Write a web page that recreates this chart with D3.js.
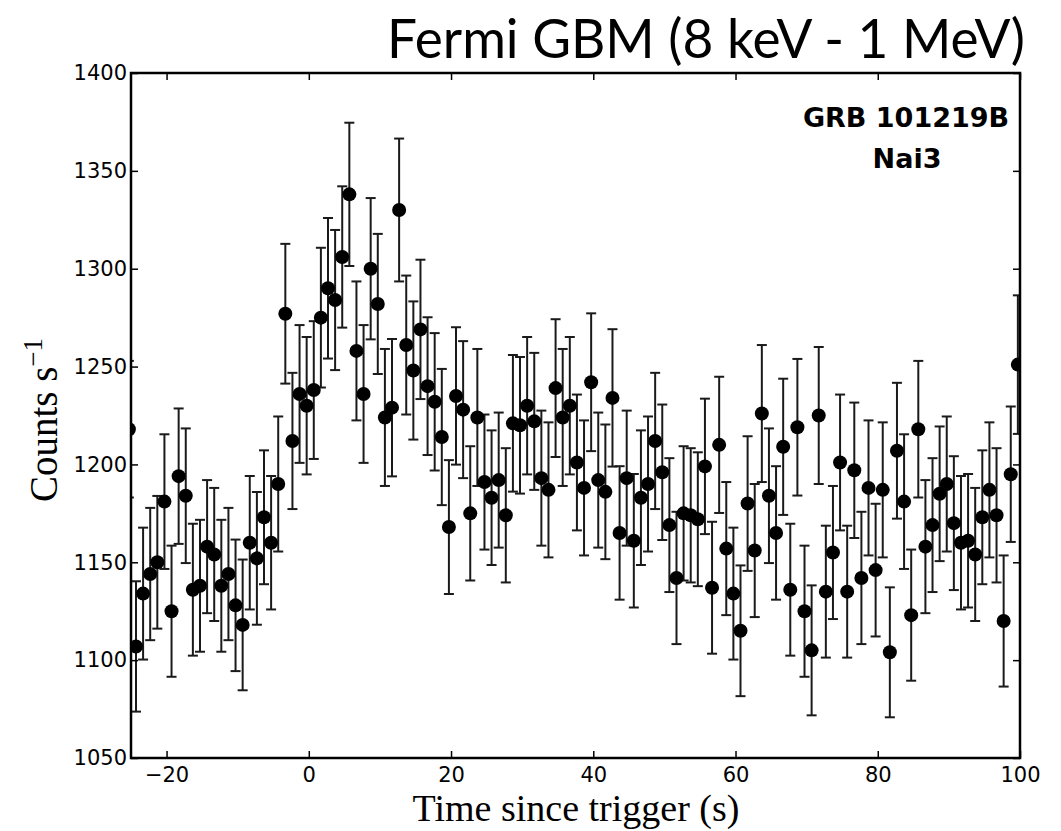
<!DOCTYPE html>
<html>
<head>
<meta charset="utf-8">
<script src="https://cdn.jsdelivr.net/npm/d3@7"></script>
<style>
  html,body{margin:0;padding:0;background:#fff;}
  #chart{width:1061px;height:831px;}
</style>
</head>
<body>
<div id="chart"></div>
<script>
// bin centres (s) and count rates
const times = [-25.3,-24.3,-23.3,-22.3,-21.3,-20.3,-19.3,-18.3,-17.3,-16.3,-15.3,-14.3,-13.3,-12.3,-11.3,-10.3,-9.3,-8.3,-7.3,-6.3,
  -5.3,-4.3,-3.3,-2.3,-1.3,-0.3,0.7,1.7,2.7,3.7,4.7,5.7,6.7,7.7,8.7,9.7,10.7,11.7,12.7,13.7,
  14.7,15.7,16.7,17.7,18.7,19.7,20.7,21.7,22.7,23.7,24.7,25.7,26.7,27.7,28.7,29.7,30.7,31.7,32.7,33.7,
  34.7,35.7,36.7,37.7,38.7,39.7,40.7,41.7,42.7,43.7,44.7,45.7,46.7,47.7,48.7,49.7,50.7,51.7,52.7,53.7,
  54.7,55.7,56.7,57.7,58.7,59.7,60.7,61.7,62.7,63.7,64.7,65.7,66.7,67.7,68.7,69.7,70.7,71.7,72.7,73.7,
  74.7,75.7,76.7,77.7,78.7,79.7,80.7,81.7,82.7,83.7,84.7,85.7,86.7,87.7,88.7,89.7,90.7,91.7,92.7,93.7,
  94.7,95.7,96.7,97.7,98.7,99.7];
const counts = [1218,1107,1134,1144,1150,1181,1125,1194,1184,1136,1138,1158,1154,1138,1144,1128,1118,1160,1152,1173,
  1160,1190,1277,1212,1236,1230,1238,1275,1290,1284,1306,1338,1258,1236,1300,1282,1224,1229,1330,1261,
  1248,1269,1240,1232,1214,1168,1235,1228,1175,1224,1191,1183,1192,1174,1221,1220,1230,1222,1193,1187,
  1239,1224,1230,1201,1188,1242,1192,1186,1234,1165,1193,1161,1183,1190,1212,1196,1169,1142,1175,1174,
  1172,1199,1137,1210,1157,1134,1115,1180,1156,1226,1184,1165,1209,1136,1219,1125,1105,1225,1135,1155,
  1201,1135,1197,1142,1188,1146,1187,1104,1207,1181,1123,1218,1158,1169,1185,1190,1170,1160,1161,1154,
  1173,1187,1174,1120,1195,1251];
const errors = [34.9,33.3,33.7,33.8,33.9,34.4,33.5,34.6,34.4,33.7,33.7,34.0,34.0,33.7,33.8,33.6,33.4,34.1,33.9,34.2,
  34.1,34.5,35.7,34.8,35.2,35.1,35.2,35.7,35.9,35.8,36.1,36.6,35.5,35.2,36.1,35.8,35.0,35.1,36.5,35.5,
  35.3,35.6,35.2,35.1,34.8,34.2,35.1,35.0,34.3,35.0,34.5,34.4,34.5,34.3,34.9,34.9,35.1,35.0,34.5,34.5,
  35.2,35.0,35.1,34.7,34.5,35.2,34.5,34.4,35.1,34.1,34.5,34.1,34.4,34.5,34.8,34.6,34.2,33.8,34.3,34.3,
  34.2,34.6,33.7,34.8,34.0,33.7,33.4,34.4,34.0,35.0,34.4,34.1,34.8,33.7,34.9,33.5,33.2,35.0,33.7,34.0,
  34.7,33.7,34.6,33.8,34.5,33.9,34.5,33.2,34.7,34.4,33.5,34.9,34.0,34.2,34.4,34.5,34.2,34.1,34.1,34.0,
  34.2,34.5,34.3,33.5,34.6,35.4];
const xTicks = [-20,0,20,40,60,80,100];
const yTicks = [1050,1100,1150,1200,1250,1300,1350,1400];

const W = 1061, H = 831;
const m = {top:73, right:41, bottom:73, left:131};
const iw = W - m.left - m.right, ih = H - m.top - m.bottom;

const svg = d3.select('#chart').append('svg').attr('width', W).attr('height', H);
const x = d3.scaleLinear().domain([-25, 100]).range([0, iw]);
const y = d3.scaleLinear().domain([1050, 1400]).range([ih, 0]);

const g = svg.append('g').attr('transform', `translate(${m.left},${m.top})`);
svg.append('defs').append('clipPath').attr('id','clip')
  .append('rect').attr('width', iw).attr('height', ih);

const data = times.map((t,i)=>({t, c:counts[i], e:errors[i]}));
const plot = g.append('g').attr('clip-path','url(#clip)');

// error bars
const eb = plot.selectAll('.eb').data(data).enter().append('g')
  .attr('stroke','#1a1a1a').attr('stroke-width',2);
eb.append('line').attr('x1',d=>x(d.t)).attr('x2',d=>x(d.t))
  .attr('y1',d=>y(d.c+d.e)).attr('y2',d=>y(d.c-d.e));
eb.append('line').attr('x1',d=>x(d.t)-5).attr('x2',d=>x(d.t)+5)
  .attr('y1',d=>y(d.c+d.e)).attr('y2',d=>y(d.c+d.e));
eb.append('line').attr('x1',d=>x(d.t)-5).attr('x2',d=>x(d.t)+5)
  .attr('y1',d=>y(d.c-d.e)).attr('y2',d=>y(d.c-d.e));

plot.selectAll('.pt').data(data).enter().append('circle')
  .attr('cx',d=>x(d.t)).attr('cy',d=>y(d.c)).attr('r',7).attr('fill','#000');

// axes: ticks pointing inward on all four sides
const axB = g.append('g').attr('transform',`translate(0,${ih})`)
  .call(d3.axisBottom(x).tickValues(xTicks).tickSize(-7).tickPadding(9).tickFormat(d=>d<0?'\u2212'+Math.abs(d):d));
const axL = g.append('g')
  .call(d3.axisLeft(y).tickValues(yTicks).tickSize(-7).tickPadding(4).tickFormat(d3.format('d')));
const axT = g.append('g').call(d3.axisTop(x).tickValues(xTicks).tickSize(-7).tickFormat(''));
const axR = g.append('g').attr('transform',`translate(${iw},0)`)
  .call(d3.axisRight(y).tickValues(yTicks).tickSize(-7).tickFormat(''));
[axB,axL,axT,axR].forEach(a=>{
  a.select('.domain').remove();
  a.selectAll('.tick line').attr('stroke','#000').attr('stroke-width',1.5);
  a.selectAll('text').attr('font-family','"DejaVu Sans"').attr('font-size','21px').attr('fill','#000');
});
g.append('rect').attr('width',iw).attr('height',ih)
  .attr('fill','none').attr('stroke','#000').attr('stroke-width',2.5);

// labels
svg.append('text').attr('x', 576).attr('y', 821).attr('text-anchor','middle')
  .attr('font-family','"Liberation Serif", serif').attr('font-size','38px')
  .text('Time since trigger (s)');
const yl = svg.append('text').attr('transform','translate(57,420) rotate(-90)').attr('text-anchor','middle')
  .attr('font-family','"Liberation Serif", serif').attr('font-size','39px');
yl.append('tspan').text('Counts s');
yl.append('tspan').attr('dy',-15).attr('font-size','27px').text('\u22121');

svg.append('text').attr('x',1025).attr('y',58).attr('text-anchor','end')
  .attr('font-family','Lato, sans-serif').attr('font-size','54px')
  .attr('textLength',638).attr('lengthAdjust','spacingAndGlyphs')
  .text('Fermi GBM (8 keV - 1 MeV)');

svg.append('text').attr('x',906).attr('y',127).attr('text-anchor','middle')
  .attr('font-family','"DejaVu Sans"').attr('font-weight','bold').attr('font-size','27px')
  .text('GRB 101219B');
svg.append('text').attr('x',907).attr('y',168).attr('text-anchor','middle')
  .attr('font-family','"DejaVu Sans"').attr('font-weight','bold').attr('font-size','27px')
  .text('Nai3');
</script>
</body>
</html>
